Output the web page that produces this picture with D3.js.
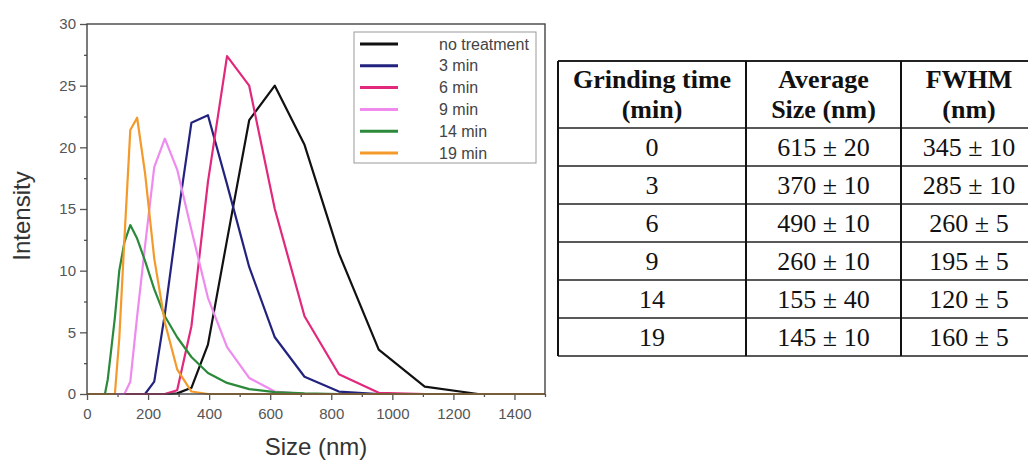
<!DOCTYPE html>
<html>
<head>
<meta charset="utf-8">
<script src="https://cdn.jsdelivr.net/npm/d3@7"></script>
<style>
  body { margin: 0; background: #fff; }
  svg { display: block; }
</style>
</head>
<body>
<div id="body"></div>
<script>
// DLS size bins (nm)
const sizes = [58.77, 68.06, 78.82, 91.28, 105.7, 122.4, 141.8, 164.2, 190.1, 220.2, 255.0,
  295.3, 342.0, 396.1, 458.7, 531.2, 615.1, 712.4, 825.0, 955.4, 1106, 1281]

// intensity per bin for each grinding time
const noTreatment = [0, 0, 0, 0, 0, 0, 0, 0, 0, 0, 0, 0.05, 0.5, 4.0, 12.5, 22.2, 25.0, 20.2, 11.4, 3.6, 0.6, 0]
const min3 = [0, 0, 0, 0, 0, 0, 0, 0, 0, 1.0, 6.5, 14.0, 22.0, 22.6, 17.0, 10.3, 4.6, 1.4, 0.2, 0, 0, 0]
const min6 = [0, 0, 0, 0, 0, 0, 0, 0, 0, 0, 0, 0.3, 5.5, 17.2, 27.4, 25.0, 15.0, 6.3, 1.6, 0.1, 0, 0]
const min9 = [0, 0, 0, 0, 0, 0, 1.0, 6.3, 12.0, 18.4, 20.7, 18.2, 13.3, 7.8, 3.8, 1.3, 0.2, 0, 0, 0, 0, 0]
const min14 = [0, 1.2, 3.5, 6.2, 10.0, 12.3, 13.7, 12.6, 10.8, 8.5, 6.3, 4.6, 3.0, 1.7, 0.9, 0.4, 0.15, 0.05, 0, 0, 0, 0]
const min19 = [0, 0, 0, 0, 4.5, 12.5, 21.4, 22.4, 17.9, 11.0, 5.8, 2.0, 0.2, 0, 0, 0, 0, 0, 0, 0, 0, 0]

const seriesNames = ["no treatment", "3 min", "6 min", "9 min", "14 min", "19 min"]
const seriesColors = ["#111111", "#23237f", "#e2287c", "#ef8aef", "#2a8a3a", "#f39a2a"]
const seriesValues = [noTreatment, min3, min6, min9, min14, min19]

const xTicks = [0, 200, 400, 600, 800, 1000, 1200, 1400]
const yTicks = [0, 5, 10, 15, 20, 25, 30]

// table
const grindTimes = ["0", "3", "6", "9", "14", "19"]
const avgSize = ["615 ± 20", "370 ± 10", "490 ± 10", "260 ± 10", "155 ± 40", "145 ± 10"]
const fwhm = ["345 ± 10", "285 ± 10", "260 ± 5", "195 ± 5", "120 ± 5", "160 ± 5"]
const headers = [["Grinding time", "(min)"], ["Average", "Size (nm)"], ["FWHM", "(nm)"]]

let margin = { top: 24, right: 483, bottom: 67, left: 87 },
  width = 1028 - margin.left - margin.right,
  height = 461 - margin.top - margin.bottom

let root = d3.select("#body")
  .append("svg")
  .attr("width", 1028)
  .attr("height", 461)

let svg = root.append("g")
  .attr("transform", "translate(" + margin.left + "," + margin.top + ")")

let x = d3.scaleLinear().domain([0, 1500]).range([0, width])
let y = d3.scaleLinear().domain([0, 30]).range([height, 0])

// axes
svg.append("g")
  .attr("transform", "translate(0," + height + ")")
  .call(d3.axisBottom(x).tickValues(xTicks).tickSize(6).tickPadding(8).tickFormat(d3.format("d")))
svg.append("g")
  .attr("transform", "translate(0," + height + ")")
  .call(d3.axisBottom(x).tickValues(xTicks.map(d => d + 100)).tickSize(3).tickFormat(""))
svg.append("g")
  .call(d3.axisLeft(y).tickValues(yTicks).tickSize(7).tickPadding(4))
svg.append("g")
  .call(d3.axisLeft(y).tickValues(yTicks.slice(1).map(d => d - 2.5)).tickSize(3).tickFormat(""))

svg.selectAll(".domain").remove()
svg.selectAll(".tick line").attr("stroke", "#555").attr("stroke-width", 1.3)
svg.selectAll(".tick text")
  .style("font-family", "Liberation Sans, Arial, sans-serif")
  .style("font-size", "15px")
  .attr("fill", "#555")

// lines, padded with zeros to the ends of the axis
let line = d3.line()
  .x(d => x(d[0]))
  .y(d => y(d[1]))

seriesValues.forEach(function (vals, i) {
  let pts = sizes.map((s, j) => [s, vals[j]])
  pts.unshift([x.domain()[0], 0])
  pts.push([x.domain()[1], 0])
  svg.append("path")
    .datum(pts)
    .attr("d", line)
    .attr("fill", "none")
    .attr("stroke", seriesColors[i])
    .attr("stroke-width", 2.2)
    .attr("stroke-linejoin", "round")
})

// frame
svg.append("rect")
  .attr("width", width)
  .attr("height", height)
  .attr("fill", "none")
  .attr("stroke", "#444")
  .attr("stroke-width", 1.4)

// legend
let legend = root.append("g")
legend.append("rect")
  .attr("x", 354).attr("y", 32)
  .attr("width", 182).attr("height", 131)
  .attr("fill", "#fff")
  .attr("stroke", "#999")
  .attr("stroke-width", 1)
seriesNames.forEach(function (name, i) {
  let ly = 44 + i * 21.8
  legend.append("line")
    .attr("x1", 360).attr("x2", 398)
    .attr("y1", ly).attr("y2", ly)
    .attr("stroke", seriesColors[i])
    .attr("stroke-width", 3)
  legend.append("text")
    .attr("x", 439).attr("y", ly)
    .attr("dy", "0.35em")
    .style("font-family", "Liberation Sans, Arial, sans-serif")
    .style("font-size", "16px")
    .attr("fill", "#444")
    .text(name)
})

// axis titles
root.append("text")
  .attr("transform", "translate(30,216) rotate(-90)")
  .attr("text-anchor", "middle")
  .style("font-family", "Liberation Sans, Arial, sans-serif")
  .style("font-size", "24px")
  .attr("fill", "#333")
  .text("Intensity")
root.append("text")
  .attr("x", 316).attr("y", 455)
  .attr("text-anchor", "middle")
  .style("font-family", "Liberation Sans, Arial, sans-serif")
  .style("font-size", "24px")
  .attr("fill", "#333")
  .text("Size (nm)")

// table
let colX = [558, 746, 901, 1037]
let headTop = 61, headBottom = 128, rowH = 38
let table = root.append("g")
  .style("font-family", "Liberation Serif, Times New Roman, serif")
  .style("font-size", "26px")
  .attr("fill", "#111")

headers.forEach(function (h, c) {
  let cx = (colX[c] + colX[c + 1]) / 2
  h.forEach(function (t, k) {
    table.append("text")
      .attr("x", cx).attr("y", 88 + k * 30)
      .attr("text-anchor", "middle")
      .style("font-weight", "bold")
      .text(t)
  })
})

let cols = [grindTimes, avgSize, fwhm]
cols.forEach(function (col, c) {
  let cx = (colX[c] + colX[c + 1]) / 2
  table.selectAll(null)
    .data(col)
    .enter()
    .append("text")
    .attr("x", cx)
    .attr("y", (d, i) => headBottom + i * rowH + rowH / 2)
    .attr("dy", "0.35em")
    .attr("text-anchor", "middle")
    .text(d => d)
})

let rowLines = d3.range(grindTimes.length + 1).map(i => headBottom + i * rowH)
table.selectAll(null)
  .data([headTop].concat(rowLines))
  .enter()
  .append("line")
  .attr("x1", colX[0]).attr("x2", colX[3])
  .attr("y1", d => d).attr("y2", d => d)
  .attr("stroke", "#222")
  .attr("stroke-width", (d, i) => i === 0 ? 2 : 1.5)
table.selectAll(null)
  .data(colX)
  .enter()
  .append("line")
  .attr("x1", d => d).attr("x2", d => d)
  .attr("y1", headTop).attr("y2", rowLines[rowLines.length - 1])
  .attr("stroke", "#111")
  .attr("stroke-width", 2)
</script>
</body>
</html>
